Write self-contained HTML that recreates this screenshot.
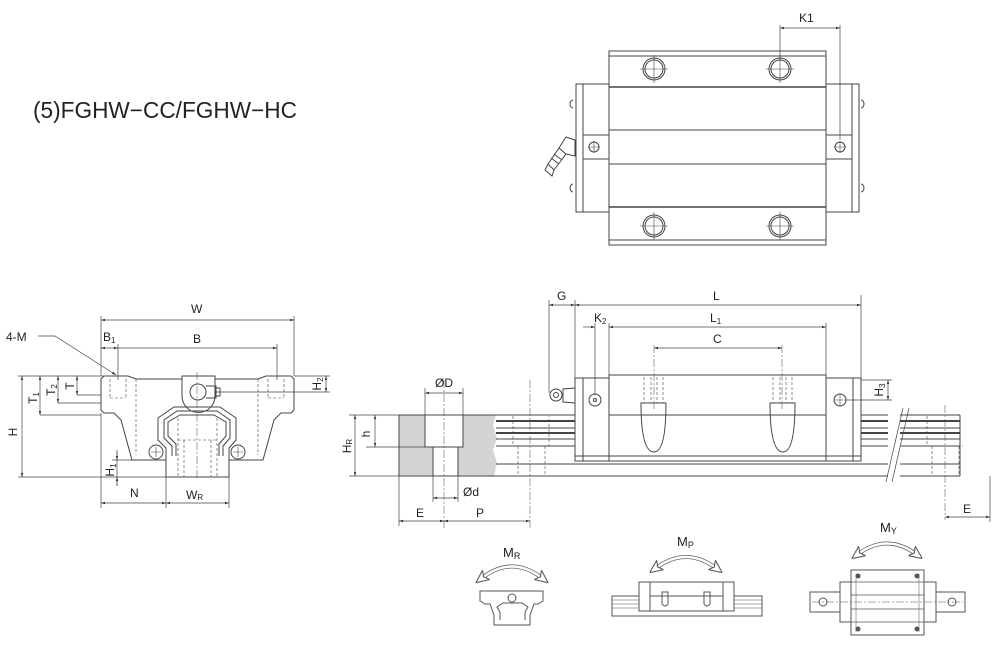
<!DOCTYPE html>
<html><head><meta charset="utf-8"><style>
html,body{margin:0;padding:0;background:#fff}
svg{display:block}
text{font-family:"Liberation Sans",sans-serif;fill:#222}
</style></head><body>
<svg width="999" height="652" viewBox="0 0 999 652" xmlns="http://www.w3.org/2000/svg">
<defs>
<marker id="a" viewBox="0 0 10 10" refX="10" refY="5" markerWidth="6" markerHeight="6" orient="auto-start-reverse"><path d="M0,2 L10,5 L0,8 z" fill="#333"/></marker>
<marker id="ab" viewBox="0 0 10 10" refX="4" refY="5" markerUnits="userSpaceOnUse" markerWidth="13" markerHeight="13" orient="auto-start-reverse"><path d="M0,0.5 L10,5 L0,9.5 L2.5,5 z" fill="#fff" stroke="#555" stroke-width="0.8"/></marker>
</defs>
<text x="33" y="118" font-size="23" textLength="264" lengthAdjust="spacingAndGlyphs" fill="#333">(5)FGHW−CC/FGHW−HC</text>

<!-- ===== TOP VIEW ===== -->
<g fill="none" stroke="#444" stroke-width="1">
<rect x="609" y="51" width="217" height="194"/>
<line x1="609" y1="56" x2="826" y2="56"/>
<line x1="609" y1="240" x2="826" y2="240"/>
<line x1="609" y1="87" x2="826" y2="87" stroke-width="1.6"/>
<line x1="609" y1="130" x2="826" y2="130"/>
<line x1="609" y1="164" x2="826" y2="164"/>
<line x1="609" y1="207" x2="826" y2="207" stroke-width="1.6"/>
<rect x="576" y="84" width="33" height="128"/>
<line x1="583" y1="84" x2="583" y2="212"/>
<rect x="826" y="84" width="33" height="128"/>
<line x1="852" y1="84" x2="852" y2="212"/>
<line x1="583" y1="135" x2="609" y2="135"/><line x1="583" y1="159" x2="609" y2="159"/>
<line x1="826" y1="135" x2="852" y2="135"/><line x1="826" y1="159" x2="852" y2="159"/>
<circle cx="594" cy="147" r="5"/><circle cx="840" cy="147" r="5"/>
<circle cx="654" cy="69" r="11"/><circle cx="780" cy="69" r="11"/>
<circle cx="654" cy="226" r="11"/><circle cx="780" cy="226" r="11"/>
<circle cx="654" cy="69" r="9"/><circle cx="780" cy="69" r="9"/>
<circle cx="654" cy="226" r="9"/><circle cx="780" cy="226" r="9"/>
<path d="M640,69h28M654,55v28M766,69h28M780,55v28M640,226h28M654,212v28M766,226h28M780,212v28" stroke-width="0.6"/>
<path d="M588,147h12M594,141v12M834,147h12M840,141v12" stroke-width="0.6"/>
<path d="M573,108a3,4 0 0,1 0,-8M573,192a3,4 0 0,1 0,-8M861,100a3,4 0 0,1 0,8M861,184a3,4 0 0,1 0,8"/>
<path d="M575,140 L566,137 L559,148 L566,154 L575,156 z"/>
<path d="M559,148 L548,164 L554,170 L566,154"/>
<path d="M548,164 L545,170 L552,176 L554,170 M551,158 l8,6 M554,154 l8,6"/>
<line x1="780" y1="25" x2="780" y2="60" stroke-width="0.7"/>
<line x1="840" y1="25" x2="840" y2="140" stroke-width="0.7"/>
<line x1="780" y1="28" x2="840" y2="28" stroke-width="0.7" marker-start="url(#a)" marker-end="url(#a)"/>
</g>
<text x="799" y="22" font-size="12">K1</text>

<!-- ===== FRONT VIEW ===== -->
<g fill="none" stroke="#444" stroke-width="1">
<path d="M104,376 H128 L136,379 H182 V376 H215 V379 H258 L266,376 H291 L294,379 V410 L291,413 H281 L274,420 L263,460 H229 V477 H166 V460 H132 L121,420 L114,413 H104 L101,410 V379 Z"/>
<line x1="136" y1="379" x2="136" y2="455" stroke-dasharray="3,2" stroke-width="0.6"/>
<line x1="258" y1="379" x2="258" y2="455" stroke-dasharray="3,2" stroke-width="0.6"/>
<path d="M182,379 V396 A16,16 0 0,0 215,396 V379"/>
<circle cx="198" cy="392" r="8"/>
<path d="M206,386 h10 v12 h-10 M216,388 h4 v8 h-4"/>
<path d="M166,460 V448 L158,440 V418 L174,407 H220 L236,418 V440 L229,448 V460"/>
<path d="M172,456 V446 L164,438 V420 L177,411 H217 L230,420 V438 L223,446 V456"/>
<path d="M176,456 V444 L168,436 V422 L180,415 H214 L226,422 V436 L219,444 V456"/>
<circle cx="156" cy="452" r="7"/><circle cx="238" cy="452" r="7"/>
<path d="M151,452h10M156,447v10M233,452h10M238,447v10" stroke-width="0.6"/>
<g stroke-dasharray="3,2" stroke-width="0.6">
<path d="M178,418 V477 M217,418 V477 M184,440 V477 M211,440 V477 M178,440 H217"/>
<path d="M110,379 V398 M126,379 V398 M268,379 V398 M284,379 V398 M110,398 H126 M268,398 H284"/>
</g>
<line x1="197" y1="372" x2="197" y2="480" stroke-dasharray="8,2,2,2" stroke-width="0.5"/>
<g stroke-width="0.7">
<line x1="101" y1="316" x2="101" y2="376"/><line x1="294" y1="316" x2="294" y2="376"/>
<line x1="101" y1="320" x2="294" y2="320" marker-start="url(#a)" marker-end="url(#a)"/>
<line x1="118" y1="344" x2="118" y2="380"/><line x1="277" y1="344" x2="277" y2="380"/>
<line x1="101" y1="348" x2="118" y2="348" marker-start="url(#a)" marker-end="url(#a)"/>
<line x1="118" y1="348" x2="277" y2="348" marker-end="url(#a)"/>
<path d="M38,336 H55 L116,375" marker-end="url(#a)"/>
<line x1="18" y1="376" x2="104" y2="376"/><line x1="18" y1="477" x2="166" y2="477"/>
<line x1="22" y1="376" x2="22" y2="477" marker-start="url(#a)" marker-end="url(#a)"/>
<line x1="40" y1="376" x2="40" y2="415" marker-start="url(#a)" marker-end="url(#a)"/>
<line x1="40" y1="415" x2="101" y2="415"/>
<line x1="58" y1="376" x2="58" y2="403" marker-start="url(#a)" marker-end="url(#a)"/>
<line x1="58" y1="403" x2="101" y2="403"/>
<line x1="77" y1="376" x2="77" y2="395" marker-start="url(#a)" marker-end="url(#a)"/>
<line x1="77" y1="395" x2="101" y2="395"/>
<line x1="294" y1="376" x2="330" y2="376"/><line x1="216" y1="392" x2="330" y2="392"/>
<line x1="326" y1="376" x2="326" y2="392" marker-start="url(#a)" marker-end="url(#a)"/>
<line x1="117" y1="450" x2="117" y2="486" />
<line x1="112" y1="460" x2="132" y2="460"/>
<line x1="117" y1="452" x2="117" y2="460" marker-end="url(#a)"/>
<line x1="117" y1="486" x2="117" y2="477" marker-end="url(#a)"/>
<line x1="101" y1="413" x2="101" y2="508"/><line x1="166" y1="477" x2="166" y2="508"/><line x1="229" y1="477" x2="229" y2="508"/>
<line x1="101" y1="503" x2="166" y2="503" marker-start="url(#a)" marker-end="url(#a)"/>
<line x1="166" y1="503" x2="229" y2="503" marker-start="url(#a)" marker-end="url(#a)"/>
</g>
</g>
<g font-size="12">
<text x="191" y="313">W</text>
<text x="193" y="343">B</text>
<text x="103" y="341">B<tspan font-size="8" dy="2">1</tspan></text>
<text x="6" y="341">4-M</text>
<text x="130" y="497">N</text>
<text x="186" y="499">W<tspan font-size="8" dy="1">R</tspan></text>
<text transform="translate(17,432) rotate(-90)" text-anchor="middle">H</text>
<text transform="translate(37,398) rotate(-90)" text-anchor="middle">T<tspan font-size="8" dy="2">1</tspan></text>
<text transform="translate(55,390) rotate(-90)" text-anchor="middle">T<tspan font-size="8" dy="2">2</tspan></text>
<text transform="translate(74,386) rotate(-90)" text-anchor="middle">T</text>
<text transform="translate(321,384) rotate(-90)" text-anchor="middle">H<tspan font-size="8" dy="2">2</tspan></text>
<text transform="translate(114,470) rotate(-90)" text-anchor="middle">H<tspan font-size="8" dy="2">1</tspan></text>
</g>

<!-- ===== SIDE VIEW ===== -->
<path d="M399,415 H496 L493,425 L497,438 L493,450 L497,463 L494,476 H399 Z" fill="#d4d4d4"/>
<g fill="none" stroke="#444" stroke-width="1">
<rect x="425" y="415" width="38" height="32" fill="#fff"/>
<rect x="433" y="447" width="25" height="29" fill="#fff"/>
<line x1="399" y1="415" x2="399" y2="476"/>
<line x1="399" y1="415" x2="960" y2="415"/>
<line x1="399" y1="476" x2="960" y2="476"/>
<line x1="496" y1="421" x2="960" y2="421" stroke-width="2"/>
<line x1="496" y1="428" x2="960" y2="428"/>
<line x1="496" y1="433" x2="960" y2="433" stroke-width="2"/>
<line x1="496" y1="439" x2="960" y2="439"/>
<line x1="496" y1="446" x2="960" y2="446"/>
<line x1="496" y1="464" x2="960" y2="464"/>
<line x1="960" y1="415" x2="960" y2="476"/>
<rect x="575" y="378" width="286" height="83" fill="#fff"/>
<line x1="583" y1="378" x2="583" y2="461"/>
<line x1="853" y1="378" x2="853" y2="461"/>
<rect x="609" y="375" width="217" height="86" fill="#fff"/>
<line x1="575" y1="456" x2="861" y2="456"/>
<line x1="609" y1="415" x2="826" y2="415"/>
<circle cx="595" cy="400" r="6"/><circle cx="595" cy="400" r="1.5"/>
<circle cx="840" cy="400" r="6"/><path d="M834,400h12M840,394v12" stroke-width="0.6"/>
<path d="M641,403 H666 Q666,452 654,452 Q641,452 641,403 Z"/>
<path d="M770,403 H795 Q795,452 783,452 Q770,452 770,403 Z"/>
<g stroke-dasharray="3,2" stroke-width="0.6">
<path d="M644,377 V403 M651,377 V403 M657,377 V403 M663,377 V403"/>
<path d="M773,377 V403 M780,377 V403 M786,377 V403 M792,377 V403"/>
<path d="M513,416 V446 H549 V416 M518,446 V476 M545,446 V476"/>
<path d="M927,416 V446 H963 M932,446 V476 M959,446 V476"/>
</g>
<rect x="888" y="414" width="12" height="63" fill="#fff" stroke="none"/>
<path d="M903,408 L886,482 M909,408 L892,482" stroke-width="0.7"/>
<path d="M575,388 L563,389 V402 L575,403"/>
<circle cx="556" cy="395" r="6"/><circle cx="556" cy="395" r="2.5"/>
<g stroke-dasharray="8,2,2,2" stroke-width="0.5">
<line x1="444" y1="380" x2="444" y2="528"/>
<line x1="530" y1="380" x2="530" y2="528"/>
<line x1="945" y1="405" x2="945" y2="520"/>
<line x1="654" y1="345" x2="654" y2="410"/><line x1="782" y1="345" x2="782" y2="410"/>
</g>
<g stroke-width="0.7">
<line x1="549" y1="300" x2="549" y2="393"/><line x1="575" y1="300" x2="575" y2="378"/><line x1="861" y1="295" x2="861" y2="378"/>
<line x1="549" y1="305" x2="575" y2="305" marker-start="url(#a)" marker-end="url(#a)"/>
<line x1="575" y1="305" x2="861" y2="305" marker-start="url(#a)" marker-end="url(#a)"/>
<line x1="595" y1="323" x2="595" y2="395"/><line x1="609" y1="323" x2="609" y2="375"/><line x1="826" y1="323" x2="826" y2="375"/>
<line x1="583" y1="327" x2="595" y2="327" marker-end="url(#a)"/>
<line x1="609" y1="327" x2="826" y2="327" marker-start="url(#a)" marker-end="url(#a)"/>
<line x1="654" y1="348" x2="782" y2="348" marker-start="url(#a)" marker-end="url(#a)"/>
<line x1="861" y1="380" x2="892" y2="380"/><line x1="846" y1="400" x2="892" y2="400"/>
<line x1="888" y1="380" x2="888" y2="400" marker-start="url(#a)" marker-end="url(#a)"/>
<line x1="349" y1="415" x2="399" y2="415"/><line x1="349" y1="476" x2="399" y2="476"/>
<line x1="366" y1="447" x2="425" y2="447"/>
<line x1="355" y1="415" x2="355" y2="476" marker-start="url(#a)" marker-end="url(#a)"/>
<line x1="375" y1="415" x2="375" y2="447" marker-start="url(#a)" marker-end="url(#a)"/>
<line x1="425" y1="388" x2="425" y2="415"/><line x1="463" y1="388" x2="463" y2="415"/>
<line x1="425" y1="393" x2="463" y2="393" marker-start="url(#a)" marker-end="url(#a)"/>
<line x1="433" y1="476" x2="433" y2="502"/><line x1="458" y1="476" x2="458" y2="502"/>
<line x1="433" y1="498" x2="458" y2="498" marker-start="url(#a)" marker-end="url(#a)"/>
<line x1="399" y1="476" x2="399" y2="526"/>
<line x1="399" y1="521" x2="444" y2="521" marker-start="url(#a)" marker-end="url(#a)"/>
<line x1="444" y1="521" x2="530" y2="521" marker-start="url(#a)" marker-end="url(#a)"/>
<line x1="990" y1="476" x2="990" y2="522"/>
<line x1="945" y1="517" x2="990" y2="517" marker-start="url(#a)" marker-end="url(#a)"/>
</g>
</g>
<g font-size="12">
<text x="557" y="300">G</text>
<text x="713" y="300">L</text>
<text x="594" y="322">K<tspan font-size="8" dy="2">2</tspan></text>
<text x="710" y="322">L<tspan font-size="8" dy="2">1</tspan></text>
<text x="713" y="343">C</text>
<text x="435" y="387">ØD</text>
<text x="463" y="496">Ød</text>
<text x="416" y="517">E</text>
<text x="476" y="517">P</text>
<text x="963" y="513">E</text>
<text transform="translate(370,434) rotate(-90)" text-anchor="middle">h</text>
<text transform="translate(351,446) rotate(-90)" text-anchor="middle">H<tspan font-size="8" dy="1">R</tspan></text>
<text transform="translate(883,390) rotate(-90)" text-anchor="middle">H<tspan font-size="8" dy="2">3</tspan></text>
</g>

<!-- ===== BOTTOM ICONS ===== -->
<g fill="none" stroke="#555" stroke-width="1">
<path d="M482,578 Q512,555 542,578" stroke-width="4" stroke="#666"/>
<path d="M482,578 Q512,555 542,578" stroke-width="2.4" stroke="#fff"/>
<path d="M482,578 Q512,555 542,578" stroke="none" marker-start="url(#ab)" marker-end="url(#ab)"/>
<path d="M480,591 H543 V601 L538,604 H534 L530,615 V625 H494 V615 L490,604 H485 L480,601 Z" fill="#fff"/>
<path d="M500,620 V612 L497,607 L503,603 H522 L528,607 L525,612 V620"/>
<circle cx="512" cy="598" r="4"/>
<path d="M656,568 Q686,546 716,568" stroke-width="4" stroke="#666"/>
<path d="M656,568 Q686,546 716,568" stroke-width="2.4" stroke="#fff"/>
<path d="M656,568 Q686,546 716,568" stroke="none" marker-start="url(#ab)" marker-end="url(#ab)"/>
<rect x="612" y="596" width="150" height="20" fill="#fff"/>
<path d="M612,600h150M612,604h150M612,608h150" stroke-width="0.6"/>
<rect x="639" y="582" width="95" height="29" fill="#fff"/>
<line x1="650" y1="582" x2="650" y2="611"/><line x1="723" y1="582" x2="723" y2="611"/>
<line x1="650" y1="596" x2="723" y2="596"/>
<path d="M662,592 h6 v12 q-3,4 -6,0 z M704,592 h6 v12 q-3,4 -6,0 z"/>
<path d="M858,554 Q887,533 916,554" stroke-width="4" stroke="#666"/>
<path d="M858,554 Q887,533 916,554" stroke-width="2.4" stroke="#fff"/>
<path d="M858,554 Q887,533 916,554" stroke="none" marker-start="url(#ab)" marker-end="url(#ab)"/>
<rect x="810" y="592" width="155" height="20" fill="#fff"/>
<circle cx="823" cy="602" r="4"/><circle cx="952" cy="602" r="4"/>
<rect x="840" y="582" width="96" height="40" fill="#fff"/>
<rect x="851" y="570" width="73" height="65" fill="#fff"/>
<path d="M851,582h73M851,622h73M851,595h73M851,609h73" stroke-width="0.7"/>
<path d="M856,574v58M919,574v58" stroke-width="0.5"/>
<circle cx="858" cy="576" r="2" fill="#555"/><circle cx="917" cy="576" r="2" fill="#555"/>
<circle cx="858" cy="629" r="2" fill="#555"/><circle cx="917" cy="629" r="2" fill="#555"/>
<line x1="812" y1="602" x2="963" y2="602" stroke-dasharray="8,2,2,2" stroke-width="0.5"/>
</g>
<g font-size="13">
<text x="503" y="557">M<tspan font-size="9" dy="2">R</tspan></text>
<text x="677" y="546">M<tspan font-size="9" dy="2">P</tspan></text>
<text x="880" y="532">M<tspan font-size="9" dy="2">Y</tspan></text>
</g>
</svg>
</body></html>
